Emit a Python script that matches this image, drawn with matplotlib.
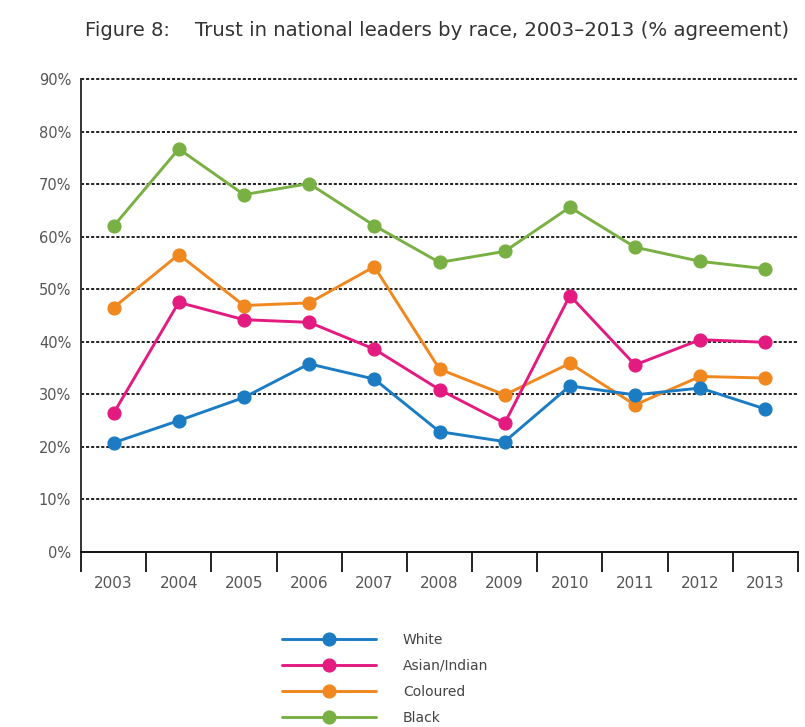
import matplotlib
matplotlib.use("Agg")
import matplotlib.pyplot as plt
from matplotlib.ticker import FixedLocator, PercentFormatter

years = ["2003", "2004", "2005", "2006", "2007", "2008", "2009", "2010", "2011", "2012", "2013"]
white = [20.8, 25.0, 29.4, 35.8, 32.9, 22.9, 21.0, 31.6, 29.9, 31.2, 27.2]
asian_indian = [26.4, 47.5, 44.2, 43.7, 38.6, 30.9, 24.5, 48.8, 35.6, 40.4, 39.9]
coloured = [46.5, 56.6, 46.9, 47.4, 54.3, 34.8, 29.9, 35.9, 28.0, 33.4, 33.1]
black = [62.0, 76.7, 68.0, 70.1, 62.1, 55.1, 57.2, 65.6, 58.0, 55.3, 53.9]
y_ticks = [0, 10, 20, 30, 40, 50, 60, 70, 80, 90]

series = [
    ("White", white, "#1b7cc3"),
    ("Asian/Indian", asian_indian, "#e31b80"),
    ("Coloured", coloured, "#f0871f"),
    ("Black", black, "#78b043"),
]

W, H = 805, 727
fig = plt.figure(figsize=(W / 100, H / 100), dpi=100)
plt.rcParams["font.family"] = ["DejaVu Sans"]
ax = fig.add_axes([81 / W, 175 / H, 717 / W, 473 / H])

x = list(range(len(years)))
handles = {}
# draw Black first so White ends up on top
for name, vals, color in reversed(series):
    (ln,) = ax.plot(x, vals, color=color, lw=2.1, marker="o", ms=9.2,
                    solid_capstyle="round", zorder=3)
    handles[name] = ln

ax.set_xlim(-0.5, len(years) - 0.5)
ax.set_ylim(0, 90)

# category boundaries get the long ticks, labels sit between them
ax.xaxis.set_major_locator(FixedLocator([i - 0.5 for i in range(len(years) + 1)]))
ax.xaxis.set_minor_locator(FixedLocator(x))
ax.set_xticklabels([], minor=False)
ax.set_xticklabels(years, minor=True)
ax.tick_params(axis="x", which="major", length=14.5, width=1.3, color="#111111",
               direction="out")
ax.tick_params(axis="x", which="minor", length=0, pad=17, labelsize=11,
               labelcolor="#555555")

ax.yaxis.set_major_locator(FixedLocator(y_ticks))
ax.yaxis.set_major_formatter(PercentFormatter(decimals=0))
ax.tick_params(axis="y", length=0, pad=7, labelsize=10.5, labelcolor="#555555")

for yv in y_ticks[1:]:
    ax.axhline(yv, color="#222222", lw=1.4, ls=(0, (1.6, 1.0)), zorder=1,
               clip_on=False)

for side in ("top", "right"):
    ax.spines[side].set_visible(False)
ax.spines["left"].set_color("#333333")
ax.spines["left"].set_linewidth(1.4)
ax.spines["bottom"].set_color("#111111")
ax.spines["bottom"].set_linewidth(1.4)

title_color = "#333333"
fig.text(85 / W, 1 - 30 / H, "Figure 8:", fontsize=14, color=title_color,
         va="center", ha="left")
fig.text(195 / W, 1 - 30 / H,
         "Trust in national leaders by race, 2003\u20132013 (% agreement)",
         fontsize=14.2, color=title_color, va="center", ha="left")

order = [name for name, _, _ in series]
fig.legend([handles[n] for n in order], order, loc="upper left",
           bbox_to_anchor=(282 / W, 1 - 633 / H), frameon=False,
           fontsize=10, labelcolor="#444444", handlelength=6.8,
           handletextpad=1.9, labelspacing=0.86, borderpad=0,
           borderaxespad=0, markerscale=1.0)

fig.savefig("out.png", dpi=100)
